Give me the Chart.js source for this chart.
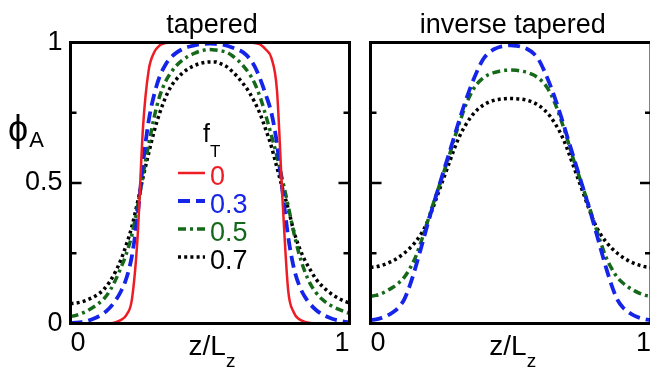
<!DOCTYPE html>
<html>
<head>
<meta charset="utf-8">
<script src="https://cdn.jsdelivr.net/npm/chart.js@4.4.1/dist/chart.umd.min.js"></script>
<style>
  html, body { margin: 0; padding: 0; background: #fff; width: 650px; height: 371px; overflow: hidden; }
  #panelLeft { position: absolute; left: 0; top: 0; }
  #panelRight { position: absolute; left: 360px; top: 0; }
</style>
</head>
<body>
<canvas id="panelLeft" width="360" height="371"></canvas>
<canvas id="panelRight" width="295" height="371"></canvas>
<script>
// Position along the film, z / L_z
const zGrid = [
  0, 0.02, 0.04, 0.06, 0.08, 0.10, 0.12, 0.14, 0.16, 0.18,
  0.20, 0.22, 0.24, 0.26, 0.28, 0.30, 0.32, 0.34, 0.36, 0.38,
  0.40, 0.42, 0.44, 0.46, 0.48, 0.50, 0.52, 0.54, 0.56, 0.58,
  0.60, 0.62, 0.64, 0.66, 0.68, 0.70, 0.72, 0.74, 0.76, 0.78,
  0.80, 0.82, 0.84, 0.86, 0.88, 0.90, 0.92, 0.94, 0.96, 0.98, 1.00
];

// Taper fractions shown in the legend
const taperFractions = ['0', '0.3', '0.5', '0.7'];

// Tapered copolymer: phi_A profiles
const taperedF00 = [
  0, 0, 0, 0, 0, 0, 0, 0.001, 0.004, 0.012,
  0.03, 0.085, 0.3, 0.7, 0.9, 0.965, 0.99, 0.998, 1, 1,
  1, 1, 1, 1, 1, 1, 1, 1, 1, 1,
  1, 1, 1, 0.998, 0.993, 0.975, 0.945, 0.83, 0.44, 0.12,
  0.04, 0.015, 0.006, 0.002, 0.001, 0, 0, 0, 0, 0, 0
];
const taperedF03 = [
  0.002, 0.003, 0.005, 0.009, 0.016, 0.025, 0.037, 0.055, 0.08, 0.113,
  0.16, 0.24, 0.38, 0.57, 0.72, 0.815, 0.88, 0.92, 0.947, 0.964,
  0.976, 0.984, 0.989, 0.993, 0.995, 0.996, 0.995, 0.993, 0.989, 0.982,
  0.974, 0.964, 0.945, 0.915, 0.87, 0.814, 0.75, 0.64, 0.47, 0.31,
  0.2, 0.135, 0.095, 0.068, 0.048, 0.034, 0.024, 0.016, 0.011, 0.007, 0.004
];
const taperedF05 = [
  0.025, 0.029, 0.036, 0.045, 0.057, 0.071, 0.088, 0.115, 0.152, 0.197,
  0.248, 0.315, 0.415, 0.53, 0.635, 0.735, 0.81, 0.86, 0.893, 0.918,
  0.936, 0.95, 0.96, 0.968, 0.973, 0.975, 0.973, 0.97, 0.965, 0.953,
  0.937, 0.916, 0.89, 0.855, 0.805, 0.74, 0.67, 0.595, 0.51, 0.42,
  0.325, 0.245, 0.185, 0.14, 0.11, 0.088, 0.072, 0.06, 0.051, 0.043, 0.036
];
const taperedF07 = [
  0.071, 0.073, 0.077, 0.084, 0.093, 0.105, 0.122, 0.148, 0.182, 0.225,
  0.28, 0.345, 0.43, 0.52, 0.605, 0.685, 0.75, 0.803, 0.843, 0.87,
  0.89, 0.905, 0.916, 0.924, 0.929, 0.931, 0.931, 0.924, 0.914, 0.897,
  0.876, 0.852, 0.824, 0.788, 0.745, 0.69, 0.63, 0.555, 0.48, 0.41,
  0.33, 0.27, 0.225, 0.19, 0.158, 0.135, 0.117, 0.102, 0.09, 0.08, 0.073
];

// Inverse tapered copolymer: phi_A profiles
const inverseF03 = [
  0.012, 0.015, 0.02, 0.028, 0.04, 0.057, 0.085, 0.135, 0.198, 0.268,
  0.34, 0.41, 0.475, 0.54, 0.605, 0.67, 0.735, 0.795, 0.85, 0.898,
  0.938, 0.962, 0.976, 0.984, 0.988, 0.99, 0.988, 0.984, 0.976, 0.962,
  0.938, 0.898, 0.85, 0.795, 0.735, 0.67, 0.605, 0.54, 0.475, 0.41,
  0.34, 0.268, 0.198, 0.135, 0.085, 0.057, 0.04, 0.028, 0.02, 0.015, 0.012
];
const inverseF05 = [
  0.097, 0.1, 0.107, 0.117, 0.129, 0.144, 0.164, 0.195, 0.235, 0.29,
  0.352, 0.415, 0.475, 0.535, 0.595, 0.662, 0.722, 0.778, 0.822, 0.853,
  0.872, 0.885, 0.893, 0.898, 0.901, 0.902, 0.901, 0.898, 0.893, 0.885,
  0.872, 0.853, 0.822, 0.778, 0.722, 0.662, 0.595, 0.535, 0.475, 0.415,
  0.352, 0.29, 0.235, 0.195, 0.164, 0.144, 0.129, 0.117, 0.107, 0.1, 0.097
];
const inverseF07 = [
  0.2, 0.202, 0.207, 0.214, 0.223, 0.235, 0.25, 0.268, 0.29, 0.318,
  0.355, 0.405, 0.46, 0.515, 0.57, 0.625, 0.672, 0.708, 0.738, 0.76,
  0.776, 0.787, 0.794, 0.798, 0.8, 0.801, 0.8, 0.798, 0.794, 0.787,
  0.776, 0.76, 0.738, 0.708, 0.672, 0.625, 0.57, 0.515, 0.46, 0.405,
  0.355, 0.318, 0.29, 0.268, 0.25, 0.235, 0.223, 0.214, 0.207, 0.202, 0.2
];

// y-axis ticks: labelled majors and unlabelled minors
const yMajorTicks = [0, 0.5, 1];
const yMinorTicks = [0.25, 0.75];
const xTickValues = [0, 1];

const FONT = "'Liberation Sans', Arial, Helvetica, sans-serif";
const STYLES = {
  '0':   { color: '#ee1c24', width: 2.5, dash: [] },
  '0.3': { color: '#1424e8', width: 3.8, dash: [12, 6] },
  '0.5': { color: '#16691a', width: 3.5, dash: [8, 4, 3, 4] },
  '0.7': { color: '#000000', width: 3.5, dash: [3, 3.2] }
};

Chart.defaults.font.family = FONT;
Chart.defaults.color = '#000';

function series(label, values) {
  const s = STYLES[label];
  return {
    label: label,
    data: zGrid.map((z, i) => ({ x: z, y: values[i] })),
    borderColor: s.color,
    borderWidth: s.width,
    borderDash: s.dash,
    borderCapStyle: 'butt',
    pointRadius: 0,
    fill: false,
    cubicInterpolationMode: 'monotone'
  };
}

function subscripted(ctx, base, sub, x, y, baseSize, subSize, drop, centered, color, gap) {
  ctx.fillStyle = color || '#000';
  ctx.textBaseline = 'alphabetic';
  ctx.textAlign = 'left';
  ctx.font = baseSize + 'px ' + FONT;
  const w1 = ctx.measureText(base).width + (gap || 0);
  ctx.font = subSize + 'px ' + FONT;
  const w2 = ctx.measureText(sub).width;
  const x0 = centered ? x - (w1 + w2) / 2 : x;
  ctx.font = baseSize + 'px ' + FONT;
  ctx.fillText(base, x0, y);
  ctx.font = subSize + 'px ' + FONT;
  ctx.fillText(sub, x0 + w1, y + drop);
}

// Frame, inward tick marks, panel title, axis titles and legend
const panelDecor = {
  id: 'panelDecor',
  afterDatasetsDraw(chart, args, opts) {
    const { ctx, chartArea: a } = chart;
    const y = chart.scales.y;
    ctx.save();
    ctx.strokeStyle = '#000';
    ctx.lineWidth = 2.5;
    const tickLen = v => (yMajorTicks.includes(v) ? 11 : 6);
    [...yMajorTicks, ...yMinorTicks].forEach(v => {
      const py = y.getPixelForValue(v);
      const len = tickLen(v);
      ctx.beginPath();
      ctx.moveTo(a.left, py); ctx.lineTo(a.left + len, py);
      ctx.moveTo(a.right - len, py); ctx.lineTo(a.right, py);
      ctx.stroke();
    });
    ctx.lineWidth = 3;
    ctx.strokeRect(a.left, a.top, a.right - a.left, a.bottom - a.top);
    ctx.restore();
  },
  afterDraw(chart, args, opts) {
    const { ctx, chartArea: a } = chart;
    const cx = (a.left + a.right) / 2;
    ctx.save();
    // panel title
    ctx.fillStyle = '#000';
    ctx.font = '27px ' + FONT;
    ctx.textAlign = 'center';
    ctx.textBaseline = 'alphabetic';
    ctx.fillText(opts.title, cx + 2, 33);
    // x-axis title z/L_z
    subscripted(ctx, 'z/L', 'z', cx + 2, 355, 28, 19, 12, true);
    // y-axis title phi_A
    if (opts.yTitle) {
      subscripted(ctx, '\u03D5', 'A', 8, 141, 36, 22, 6, false, '#000', 1);
    }
    // legend
    if (opts.legend) {
      subscripted(ctx, 'f', 'T', 203, 142, 25, 17, 15, false);
      chart.data.datasets.forEach((ds, i) => {
        const base = 185 + i * 28;
        ctx.save();
        ctx.strokeStyle = ds.borderColor;
        ctx.lineWidth = ds.borderWidth;
        ctx.setLineDash(ds.borderDash);
        ctx.lineCap = 'butt';
        ctx.beginPath();
        ctx.moveTo(178, base - 12);
        ctx.lineTo(205, base - 12);
        ctx.stroke();
        ctx.restore();
        ctx.fillStyle = ds.borderColor;
        ctx.font = '27px ' + FONT;
        ctx.textAlign = 'left';
        ctx.textBaseline = 'alphabetic';
        ctx.fillText(ds.label, 210, base);
      });
    }
    ctx.restore();
  }
};

function makePanel(canvasId, datasets, opts) {
  return new Chart(document.getElementById(canvasId), {
    type: 'line',
    data: { datasets: datasets },
    options: {
      responsive: false,
      animation: false,
      devicePixelRatio: 1,
      layout: { padding: opts.padding },
      plugins: {
        legend: { display: false },
        tooltip: { enabled: false },
        panelDecor: { title: opts.title, yTitle: opts.showY, legend: opts.legend }
      },
      scales: {
        x: {
          type: 'linear',
          min: 0, max: 1,
          afterBuildTicks: s => { s.ticks = xTickValues.map(v => ({ value: v })); },
          afterFit: s => { s.height = 47.5; },
          grid: { display: false, drawTicks: false },
          border: { display: false },
          ticks: {
            align: 'inner',
            padding: 4,
            maxRotation: 0,
            autoSkip: false,
            font: { size: 27 },
            color: '#000',
            callback: v => String(v)
          }
        },
        y: {
          type: 'linear',
          min: 0, max: 1,
          display: opts.showY,
          afterBuildTicks: s => {
            s.ticks = [...yMajorTicks, ...yMinorTicks].sort((p, q) => p - q).map(v => ({ value: v }));
          },
          afterFit: s => { s.width = opts.showY ? 70.5 : 0; },
          grid: { display: false, drawTicks: false },
          border: { display: false },
          ticks: {
            padding: 8,
            autoSkip: false,
            font: { size: 27 },
            color: '#000',
            callback: v => (yMajorTicks.includes(v) ? String(v) : '')
          }
        }
      }
    },
    plugins: [panelDecor]
  });
}

makePanel('panelLeft', [
  series('0', taperedF00),
  series('0.3', taperedF03),
  series('0.5', taperedF05),
  series('0.7', taperedF07)
], {
  title: 'tapered',
  showY: true,
  legend: true,
  padding: { left: 0, top: 42.5, right: 10.5, bottom: 0 }
});

makePanel('panelRight', [
  series('0.3', inverseF03),
  series('0.5', inverseF05),
  series('0.7', inverseF07)
], {
  title: 'inverse tapered',
  showY: false,
  legend: false,
  padding: { left: 10.5, top: 42.5, right: 3, bottom: 0 }
});
</script>
</body>
</html>
